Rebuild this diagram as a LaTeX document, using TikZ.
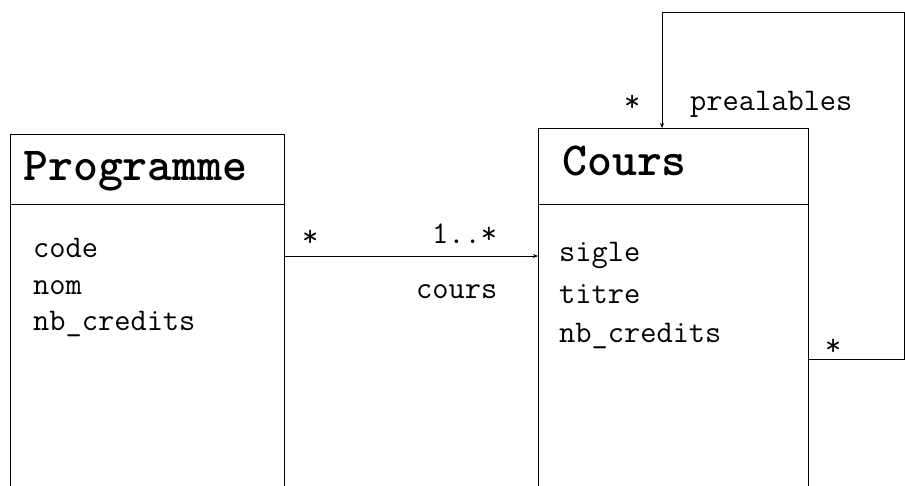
\documentclass[tikz,border=0pt]{standalone}
\usepackage{fontspec}
\usetikzlibrary{arrows.meta}
\tikzset{
  classbox/.style={draw, line width=1pt, rectangle, anchor=north west, inner sep=0pt},
  title/.style={anchor=base west, inner sep=0pt, font=\ttfamily\bfseries\fontsize{47.5}{47.5}\selectfont},
  attr/.style={anchor=base west, inner sep=0pt, font=\ttfamily\fontsize{31.5}{31.5}\selectfont},
  mult/.style={anchor=base west, inner sep=0pt, font=\ttfamily\fontsize{31.5}{31.5}\selectfont},
  link/.style={line width=1pt, -{Stealth[length=5pt, width=4pt]}},
}
\begin{document}
\begin{tikzpicture}[x=1pt, y=-1pt]
\useasboundingbox (0,0) rectangle (905,485);
\clip (0,0) rectangle (905,485);
% class boxes (they run past the lower edge)
\node[classbox, minimum width=274pt, minimum height=380pt] (prog) at (10,134) {};
\node[classbox, minimum width=270pt, minimum height=385pt] (cours) at (538,128) {};
\draw[line width=1pt] (prog.west |- 0,204) -- (prog.east |- 0,204);
\draw[line width=1pt] (cours.west |- 0,204) -- (cours.east |- 0,204);
% titles
\node[title] (ptitle) at (23,180) {Programme};
\node[title] (ctitle) at (562,175) {Cours};
% attributes
\node[attr] (pcode) at (33,257) {code};
\node[attr] (pnom) at (33,294) {nom};
\node[attr] (pcred) at (33,330) {nb\_credits};
\node[attr] (csigle) at (559,261) {sigle};
\node[attr] (ctitre) at (559,303) {titre};
\node[attr] (ccred) at (559,342) {nb\_credits};
% association Programme -> Cours
\draw[link] (prog.north east |- 0,256) -- (cours.north west |- 0,256);
\node[mult] (m1) at (302,246) {*};
\node[mult] (m2) at (432,243) {1..*};
\node[mult] (rcours) at (416,298) {cours};
% self association of Cours
\coordinate (c1) at (904,359);
\coordinate (c2) at (904,12);
\coordinate (c3) at (662,12);
\draw[link] (cours.north east |- 0,359) -- (c1) -- (c2) -- (c3) -- (cours.north west -| c3);
\node[mult] (m3) at (825,355) {*};
\node[mult] (m4) at (624,111) {*};
\node[attr] (rprea) at (690,110) {prealables};
\end{tikzpicture}
\end{document}
